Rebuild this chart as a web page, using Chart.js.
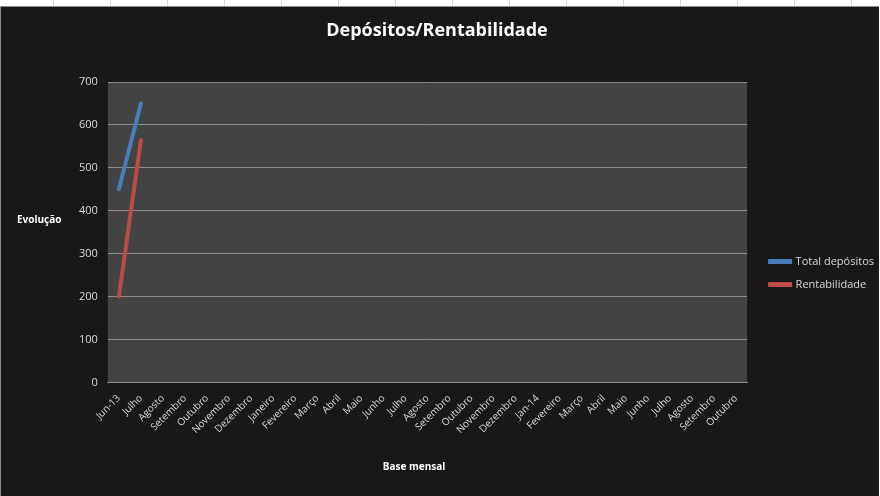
<!DOCTYPE html>
<html>
<head>
<meta charset="utf-8">
<script src="https://cdn.jsdelivr.net/npm/chart.js@4.4.0/dist/chart.umd.min.js"></script>
<style>
  html, body { margin: 0; padding: 0; background: #ffffff; }
  .sheet {
    width: 880px; height: 6px;
    background: repeating-linear-gradient(90deg, #ffffff 0, #ffffff 56px, #d4d4d4 56px, #d4d4d4 57px);
    background-position: -3px 0;
  }
  .wrap {
    position: relative; width: 879px; height: 490px;
    background: #181818; border-top: 1px solid #8c8c8c; border-left: 1px solid #8c8c8c;
    box-sizing: border-box;
  }
</style>
</head>
<body>
<div class="sheet"></div>
<div class="wrap"><canvas id="depChart"></canvas></div>
<script>
const months = ['Jun-13', 'Julho', 'Agosto', 'Setembro', 'Outubro', 'Novembro', 'Dezembro', 'Janeiro',
    'Fevereiro', 'Março', 'Abril', 'Maio', 'Junho', 'Julho', 'Agosto', 'Setembro', 'Outubro',
    'Novembro', 'Dezembro', 'Jan-14', 'Fevereiro', 'Março', 'Abril', 'Maio', 'Junho', 'Julho',
    'Agosto', 'Setembro', 'Outubro'];
const totalDepositos = [450, 650];
const rentabilidade = [200, 565];

// Excel-like bits: grey plot area, title and axis titles where Excel puts them
const excelBits = {
    id: 'excelBits',
    afterLayout(chart) {
        // push the legend down/right a bit like the original
        const lg = chart.legend;
        const dx = 11, dy = 13;
        lg.left += dx; lg.right += dx;
        lg.top += dy; lg.bottom += dy;
    },
    beforeDraw(chart) {
        const { ctx, chartArea } = chart;
        ctx.save();
        ctx.fillStyle = '#434343';
        ctx.fillRect(chartArea.left, chartArea.top, chartArea.right - chartArea.left, chartArea.bottom - chartArea.top);
        ctx.restore();
    },
    afterDraw(chart) {
        const { ctx } = chart;
        ctx.save();
        ctx.fillStyle = '#ffffff';
        ctx.textBaseline = 'middle';
        ctx.textAlign = 'center';
        ctx.font = 'bold 18px "Open Sans"';
        ctx.fillText('Depósitos/Rentabilidade', 436, 24);
        ctx.font = 'bold 10px "Open Sans"';
        ctx.fillText('Base mensal', 413, 460);
        ctx.textAlign = 'left';
        ctx.fillText('Evolução', 16, 213);
        ctx.restore();
    }
};

const ctx = document.getElementById('depChart').getContext('2d');
new Chart(ctx, {
    type: 'line',
    data: {
        labels: months,
        datasets: [{
            label: 'Total depósitos',
            data: totalDepositos,
            borderColor: '#4a7ebb',
            backgroundColor: '#4a7ebb',
            borderWidth: 4,
            borderCapStyle: 'round',
            pointRadius: 0
        }, {
            label: 'Rentabilidade',
            data: rentabilidade,
            borderColor: '#be4b48',
            backgroundColor: '#be4b48',
            borderWidth: 4,
            borderCapStyle: 'round',
            pointRadius: 0
        }]
    },
    options: {
        animation: false,
        responsive: true,
        maintainAspectRatio: false,
        layout: {
            padding: { left: 68, right: 6, top: 75, bottom: 58 }
        },
        scales: {
            x: {
                offset: true,
                grid: { display: false },
                border: { color: '#8a8a8a' },
                ticks: {
                    color: '#d9d9d9',
                    font: { family: '"Open Sans"', size: 10 },
                    autoSkip: false,
                    minRotation: 45,
                    maxRotation: 45,
                    padding: 2
                }
            },
            y: {
                min: 0,
                max: 700,
                grid: { color: '#8c8c8c', drawTicks: false },
                border: { display: false },
                ticks: {
                    stepSize: 100,
                    color: '#d9d9d9',
                    font: { family: '"Open Sans"', size: 11 },
                    padding: 10
                }
            }
        },
        plugins: {
            title: { display: false },
            legend: {
                position: 'right',
                labels: {
                    color: '#d9d9d9',
                    font: { family: '"Open Sans"', size: 11 },
                    boxWidth: 20,
                    boxHeight: 1,
                    padding: 12
                }
            },
            tooltip: { enabled: false }
        }
    },
    plugins: [excelBits]
});
</script>
</body>
</html>
